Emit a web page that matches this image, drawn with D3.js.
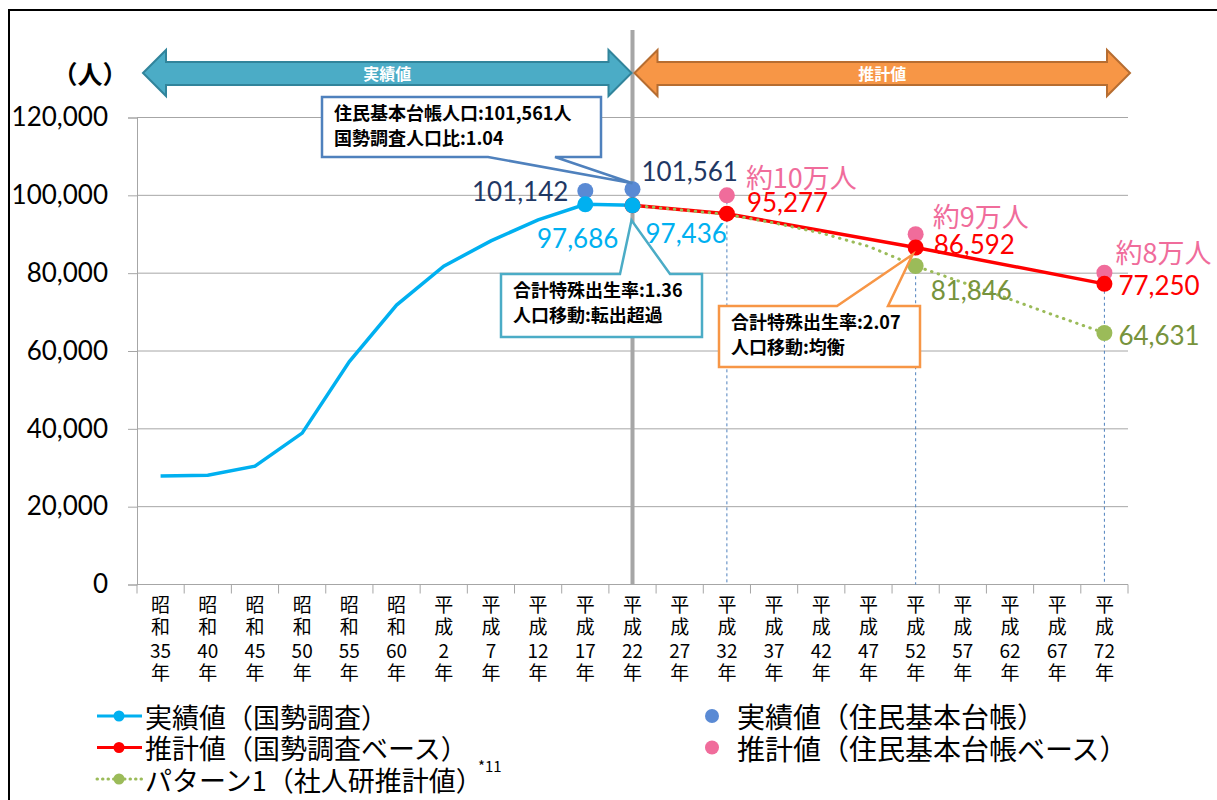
<!DOCTYPE html>
<html>
<head>
<meta charset="utf-8">
<script src="https://cdn.jsdelivr.net/npm/d3@7"></script>
<style>
body { margin: 0; background: #fff; }
svg { display: block; }
</style>
</head>
<body>
<script>
// categories (x axis)
var categories = ["昭和35年", "昭和40年", "昭和45年", "昭和50年", "昭和55年", "昭和60年",
    "平成2年", "平成7年", "平成12年", "平成17年", "平成22年", "平成27年", "平成32年",
    "平成37年", "平成42年", "平成47年", "平成52年", "平成57年", "平成62年", "平成67年", "平成72年"];

// 実績値(国勢調査)
var censusActual = [27900, 28100, 30400, 38900, 57300, 71800, 81800, 88300, 93700, 97686, 97436,
    null, null, null, null, null, null, null, null, null, null];
// 実績値(住民基本台帳)
var registryActual = [null, null, null, null, null, null, null, null, null, 101142, 101561,
    null, null, null, null, null, null, null, null, null, null];
// 推計値(国勢調査ベース)
var censusProjection = [null, null, null, null, null, null, null, null, null, null, 97436,
    null, 95277, null, null, null, 86592, null, null, null, 77250];
// 推計値(住民基本台帳ベース)
var registryProjection = [null, null, null, null, null, null, null, null, null, null, null,
    null, 100000, null, null, null, 90000, null, null, null, 80100];
// パターン1(社人研推計値)
var pattern1 = [null, null, null, null, null, null, null, null, null, null, 97436,
    96300, 95100, 92900, 90300, 86900, 81846, 77600, 73300, 68900, 64631];
var pattern1Marked = ["平成52年", "平成72年"];

var yTicks = [0, 20000, 40000, 60000, 80000, 100000, 120000];

var W = 1217, H = 800;
var svg = d3.select("body").append("svg")
    .attr("width", W)
    .attr("height", H);

var jp = "'Noto Sans CJK JP', 'Noto Sans', sans-serif";
var num = "Lato, 'Open Sans', sans-serif";

var x = d3.scaleBand()
    .domain(categories)
    .range([137, 1128]);

var y = d3.scaleLinear()
    .domain([0, 120000])
    .range([584.5, 117.5]);

function cx(c) { return x(c) + x.bandwidth() / 2; }

// frame (left and top edges only)
svg.append("path")
    .attr("d", "M9,800 V10 H1217")
    .attr("fill", "none")
    .attr("stroke", "#000")
    .attr("stroke-width", 2);

// gridlines + y axis
var yAxis = d3.axisLeft(y)
    .tickValues(yTicks)
    .tickFormat(d3.format(","))
    .tickSize(9)
    .tickPadding(20);

var gy = svg.append("g")
    .attr("transform", "translate(137,0)")
    .call(yAxis);
gy.select(".domain").attr("stroke", "#a6a6a6");
gy.selectAll(".tick line").attr("stroke", "#a6a6a6");
gy.selectAll(".tick text")
    .attr("font-family", num)
    .attr("font-size", "26px")
    .attr("fill", "#000");

svg.append("g").selectAll("line")
    .data(yTicks)
    .enter()
    .append("line")
    .attr("x1", 137)
    .attr("x2", 1128)
    .attr("y1", function (d) { return y(d); })
    .attr("y2", function (d) { return y(d); })
    .attr("stroke", "#a6a6a6")
    .attr("stroke-width", 1);

// x axis ticks at band edges
var edges = categories.map(function (c) { return x(c); }).concat([x.range()[1]]);
svg.append("g").selectAll("line")
    .data(edges)
    .enter()
    .append("line")
    .attr("x1", function (d) { return d; })
    .attr("x2", function (d) { return d; })
    .attr("y1", y(0))
    .attr("y2", y(0) + 9)
    .attr("stroke", "#a6a6a6");

// vertical stacked labels, one text per category
var xl = svg.append("g").selectAll("text")
    .data(categories)
    .enter()
    .append("text")
    .attr("transform", function (d) { return "translate(" + cx(d) + ",612)"; })
    .attr("text-anchor", "middle")
    .attr("font-family", jp)
    .attr("font-size", "19px")
    .attr("fill", "#000");

xl.each(function (d) {
    var rows = [d.charAt(0), d.charAt(1), d.slice(2, d.length - 1), "年"];
    d3.select(this).selectAll("tspan")
        .data(rows)
        .enter()
        .append("tspan")
        .text(function (r) { return r; })
        .attr("x", 0)
        .attr("dy", function (r, i) { return i == 0 ? 0 : (i == 2 ? 24 : 22); });
});

// divider between 実績値 and 推計値
svg.append("line")
    .attr("x1", cx("平成22年"))
    .attr("x2", cx("平成22年"))
    .attr("y1", 30)
    .attr("y2", y(0))
    .attr("stroke", "#a6a6a6")
    .attr("stroke-width", 4);

// dashed drop lines
svg.append("g").selectAll("line")
    .data(categories.filter(function (c, i) { return registryProjection[i] != null; }))
    .enter()
    .append("line")
    .attr("x1", function (d) { return cx(d); })
    .attr("x2", function (d) { return cx(d); })
    .attr("y1", function (d) { return y(registryProjection[categories.indexOf(d)]); })
    .attr("y2", y(0))
    .attr("stroke", "#4f81bd")
    .attr("stroke-width", 1)
    .attr("stroke-dasharray", "3,3");

function pts(arr) {
    return categories.map(function (c, i) { return [c, arr[i]]; })
        .filter(function (p) { return p[1] != null; });
}

var line = d3.line()
    .x(function (d) { return cx(d[0]); })
    .y(function (d) { return y(d[1]); });

// 推計値 red line
svg.append("path")
    .attr("d", line(pts(censusProjection)))
    .attr("fill", "none")
    .attr("stroke", "#ff0000")
    .attr("stroke-width", 3.5);

// パターン1 green dotted
svg.append("path")
    .attr("d", line(pts(pattern1)))
    .attr("fill", "none")
    .attr("stroke", "#9bbb59")
    .attr("stroke-width", 3)
    .attr("stroke-linecap", "round")
    .attr("stroke-dasharray", "0.5,6.5");

// 実績値 cyan
svg.append("path")
    .attr("d", line(pts(censusActual)))
    .attr("fill", "none")
    .attr("stroke", "#00b0f0")
    .attr("stroke-width", 3.5);

function dots(arr, color, r, only) {
    var p = pts(arr);
    if (only) p = p.filter(function (d) { return only.indexOf(d[0]) >= 0; });
    svg.append("g").selectAll("circle")
        .data(p)
        .enter()
        .append("circle")
        .attr("cx", function (d) { return cx(d[0]); })
        .attr("cy", function (d) { return y(d[1]); })
        .attr("r", r)
        .attr("fill", color);
}

dots(pattern1, "#9bbb59", 8, pattern1Marked);
dots(registryProjection, "#f06c9b", 8);
dots(censusProjection, "#ff0000", 8);
dots(registryActual, "#5a8ad4", 8);
dots(censusActual, "#00b0f0", 8, ["平成17年", "平成22年"]);

// data labels
var labels = [
    { c: "平成17年", v: 101142, t: "101,142", dx: -17, dy: 0, a: "end", col: "#1f3864" },
    { c: "平成22年", v: 101561, t: "101,561", dx: 9, dy: -18, a: "start", col: "#1f3864" },
    { c: "平成17年", v: 97686, t: "97,686", dx: 33, dy: 34, a: "end", col: "#00b0f0" },
    { c: "平成22年", v: 97436, t: "97,436", dx: 13, dy: 28, a: "start", col: "#00b0f0" },
    { c: "平成32年", v: 95277, t: "95,277", dx: 20, dy: -12, a: "start", col: "#ff0000" },
    { c: "平成52年", v: 86592, t: "86,592", dx: 18, dy: -4, a: "start", col: "#ff0000" },
    { c: "平成72年", v: 77250, t: "77,250", dx: 14, dy: 1, a: "start", col: "#ff0000" },
    { c: "平成52年", v: 81846, t: "81,846", dx: 15, dy: 24, a: "start", col: "#77933c" },
    { c: "平成72年", v: 64631, t: "64,631", dx: 14, dy: 2, a: "start", col: "#77933c" }
];
svg.append("g").selectAll("text")
    .data(labels)
    .enter()
    .append("text")
    .text(function (d) { return d.t; })
    .attr("x", function (d) { return cx(d.c) + d.dx; })
    .attr("y", function (d) { return y(d.v) + d.dy; })
    .attr("text-anchor", function (d) { return d.a; })
    .attr("dominant-baseline", "central")
    .attr("font-family", num)
    .attr("font-size", "26px")
    .attr("fill", function (d) { return d.col; });

var approx = [
    { c: "平成32年", v: 100000, t: "約10万人", dx: 19, dy: -19 },
    { c: "平成52年", v: 90000, t: "約9万人", dx: 17, dy: -19 },
    { c: "平成72年", v: 80100, t: "約8万人", dx: 11, dy: -21 }
];
svg.append("g").selectAll("text")
    .data(approx)
    .enter()
    .append("text")
    .text(function (d) { return d.t; })
    .attr("x", function (d) { return cx(d.c) + d.dx; })
    .attr("y", function (d) { return y(d.v) + d.dy; })
    .attr("dominant-baseline", "central")
    .attr("font-family", jp)
    .attr("font-size", "27px")
    .attr("fill", "#f06c9b");

// callouts
function callout(b, side, p1, p2, tip, color, lines) {
    var d;
    if (side == "top") {
        d = "M" + b[0] + "," + b[1] + " H" + p1 + " L" + tip[0] + "," + tip[1] + " L" + p2 + "," + b[1] +
            " H" + b[2] + " V" + b[3] + " H" + b[0] + " Z";
    } else {
        d = "M" + b[0] + "," + b[1] + " H" + b[2] + " V" + b[3] + " H" + p2 + " L" + tip[0] + "," + tip[1] +
            " L" + p1 + "," + b[3] + " H" + b[0] + " Z";
    }
    svg.append("path")
        .attr("d", d)
        .attr("fill", "#fff")
        .attr("stroke", color)
        .attr("stroke-width", 2.5)
        .attr("stroke-linejoin", "miter");
    svg.append("text")
        .attr("x", b[0] + 12)
        .attr("y", b[1] + 23)
        .attr("font-family", jp)
        .attr("font-weight", "bold")
        .attr("font-size", "18px")
        .attr("fill", "#000")
        .selectAll("tspan")
        .data(lines)
        .enter()
        .append("tspan")
        .text(function (t) { return t; })
        .attr("x", b[0] + 12)
        .attr("dy", function (t, i) { return i == 0 ? 0 : 25; });
}

callout([322, 97, 601, 157], "bottom", 488, 555, [cx("平成22年"), y(101561) - 6], "#4f81bd",
    ["住民基本台帳人口:101,561人", "国勢調査人口比:1.04"]);
callout([501, 274, 702, 337], "top", 620, 670, [cx("平成22年") - 1, y(97436) + 15], "#4bacc6",
    ["合計特殊出生率:1.36", "人口移動:転出超過"]);
callout([719, 306, 920, 367], "top", 837, 888, [cx("平成52年") - 3, y(86592) + 7], "#f79646",
    ["合計特殊出生率:2.07", "人口移動:均衡"]);

// period arrows
function arrow(x0, x1, fill, stroke, label) {
    var cy = 73, hl = 23;
    var d = "M" + x0 + "," + cy + " L" + (x0 + hl) + "," + (cy - 23) + " V" + (cy - 11) +
        " H" + (x1 - hl) + " V" + (cy - 23) + " L" + x1 + "," + cy + " L" + (x1 - hl) + "," + (cy + 23) +
        " V" + (cy + 12) + " H" + (x0 + hl) + " V" + (cy + 23) + " Z";
    svg.append("path")
        .attr("d", d)
        .attr("fill", fill)
        .attr("stroke", stroke)
        .attr("stroke-width", 2)
        .attr("stroke-linejoin", "miter");
    svg.append("text")
        .text(label)
        .attr("x", (x0 + x1) / 2)
        .attr("y", cy)
        .attr("text-anchor", "middle")
        .attr("dominant-baseline", "central")
        .attr("font-family", jp)
        .attr("font-weight", "bold")
        .attr("font-size", "16px")
        .attr("fill", "#fff");
}
arrow(143, cx("平成22年") - 1, "#4bacc6", "#31849b", "実績値");
arrow(cx("平成22年") + 2, 1130, "#f79646", "#b66d31", "推計値");

// unit
svg.append("text")
    .text("（人）")
    .attr("x", 90)
    .attr("y", 73)
    .attr("text-anchor", "middle")
    .attr("dominant-baseline", "central")
    .attr("font-family", jp)
    .attr("font-weight", "bold")
    .attr("font-size", "25px")
    .attr("fill", "#000");

// legend
var legendLeft = [
    { t: "実績値（国勢調査）", col: "#00b0f0", dash: null },
    { t: "推計値（国勢調査ベース）", col: "#ff0000", dash: null },
    { t: "パターン1（社人研推計値）", col: "#9bbb59", dash: "0.5,5" }
];
var legendRight = [
    { t: "実績値（住民基本台帳）", col: "#5a8ad4" },
    { t: "推計値（住民基本台帳ベース）", col: "#f06c9b" }
];
var lg = svg.append("g").selectAll("g")
    .data(legendLeft)
    .enter()
    .append("g")
    .attr("transform", function (d, i) { return "translate(0," + (716 + i * 31.5) + ")"; });
lg.append("line")
    .attr("x1", 97).attr("x2", 142)
    .attr("stroke", function (d) { return d.col; })
    .attr("stroke-width", function (d) { return d.dash ? 3 : 3; })
    .attr("stroke-linecap", function (d) { return d.dash ? "round" : "butt"; })
    .attr("stroke-dasharray", function (d) { return d.dash; });
lg.append("circle")
    .attr("cx", 119).attr("r", 5.5)
    .attr("fill", function (d) { return d.col; });
lg.append("text")
    .text(function (d) { return d.t; })
    .attr("x", 145)
    .attr("dominant-baseline", "central")
    .attr("font-family", jp)
    .attr("font-size", "27px")
    .attr("fill", "#000");

svg.append("text")
    .text("*11")
    .attr("x", 478)
    .attr("y", 772)
    .attr("font-family", jp)
    .attr("font-size", "15px")
    .attr("fill", "#000");

var lr = svg.append("g").selectAll("g")
    .data(legendRight)
    .enter()
    .append("g")
    .attr("transform", function (d, i) { return "translate(0," + (716 + i * 31.5) + ")"; });
lr.append("circle")
    .attr("cx", 712).attr("r", 7)
    .attr("fill", function (d) { return d.col; });
lr.append("text")
    .text(function (d) { return d.t; })
    .attr("x", 737)
    .attr("dominant-baseline", "central")
    .attr("font-family", jp)
    .attr("font-size", "28px")
    .attr("fill", "#000");
</script>
</body>
</html>
